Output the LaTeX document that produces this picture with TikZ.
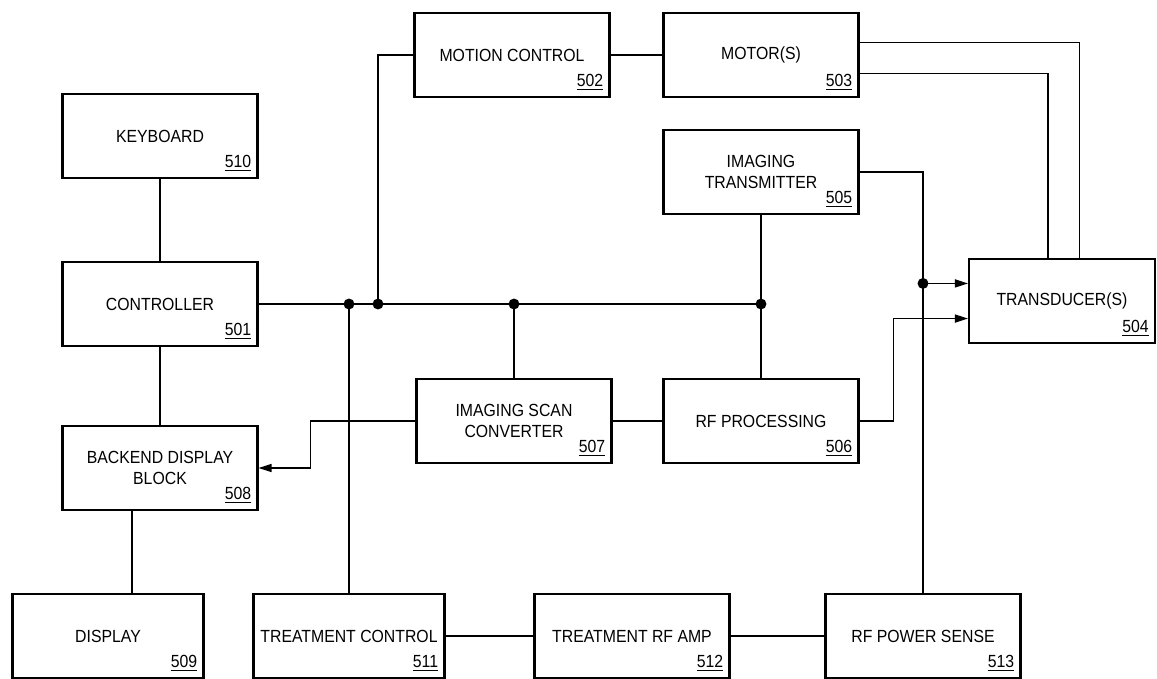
\documentclass[tikz,border=0pt]{standalone}
\usepackage{fontspec}
\setmainfont{Liberation Sans}[FakeStretch=0.9]
\usepackage{tikz}
\usetikzlibrary{positioning, arrows.meta, calc}

\begin{document}
\begin{tikzpicture}[x=0.02cm, y=-0.02cm,
  blk/.style={draw, line width=1.2pt, minimum width=3.9cm, minimum height=1.68cm,
    align=center, inner sep=2pt, font=\fontsize{10}{12}\selectfont},
  num/.style={anchor=south east, inner sep=1pt, font=\fontsize{10}{12}\selectfont},
  dot/.style={circle, fill, inner sep=2.2pt},
  wire/.style={line width=0.9pt},
  arr/.style={wire, -{Triangle[length=2.6mm, width=1.6mm]}}]
\useasboundingbox (0,0) rectangle (1157,679);

% Blocks
\node[blk] (kbd)     at (160,136) {KEYBOARD};
\node[blk] (ctrl)    at (160,304) {CONTROLLER};
\node[blk] (backend) at (160,468) {BACKEND DISPLAY\\BLOCK};
\node[blk, minimum width=3.82cm] (disp) at (108,636) {DISPLAY};
\node[blk] (motion)  at (512,55)  {MOTION CONTROL};
\node[blk] (motor)   at (761,55)  {MOTOR(S)};
\node[blk] (xmit)    at (761,172) {IMAGING\\TRANSMITTER};
\node[blk] (scan)    at (514,421) {IMAGING SCAN\\CONVERTER};
\node[blk] (rfproc)  at (761,421) {RF PROCESSING};
\node[blk, minimum width=3.72cm] (xdcr) at (1062,301) {TRANSDUCER(S)};
\node[blk, minimum width=3.82cm] (trctrl) at (349,636) {TREATMENT CONTROL};
\node[blk] (rfamp)   at (632,636) {TREATMENT RF AMP};
\node[blk] (rfsense) at (923,636) {RF POWER SENSE};

% Reference numbers
\foreach \b/\n in {ctrl/501, motion/502, motor/503, xdcr/504, xmit/505, rfproc/506,
  scan/507, backend/508, disp/509, kbd/510, trctrl/511, rfamp/512, rfsense/513}{
  \node[num] (\b-num) at ([shift={(-3pt,3pt)}]\b.south east) {\underline{\n}};
}

% Left column
\draw[wire] (kbd.south) -- (ctrl.north);
\draw[wire] (ctrl.south) -- (backend.north);
\path (backend.south) ++(-28,0) coordinate (bd);
\draw[wire] (bd) -- (bd |- disp.north);

% Bus from controller
\coordinate (j1) at (trctrl.north |- ctrl.east);
\path (j1) ++(29,0) coordinate (j2);
\coordinate (j3) at (scan.north |- ctrl.east);
\coordinate (j4) at (xmit.south |- ctrl.east);
\draw[wire] (ctrl.east) -- (j4);
\draw[wire] (j1) -- (trctrl.north);
\draw[wire] (j2) |- (motion.west);
\draw[wire] (j3) -- (scan.north);
\draw[wire] (xmit.south) -- (rfproc.north);
\foreach \j in {j1,j2,j3,j4}{
  \node[dot] (\j-dot) at (\j) {};
}

% Horizontal links
\draw[wire] (motion.east) -- (motor.west);
\draw[wire] (scan.east) -- (rfproc.west);
\draw[wire] (trctrl.east) -- (rfamp.west);
\draw[wire] (rfamp.east) -- (rfsense.west);
\draw[arr] (scan.west) -- ++(-105,0) |- (backend.east);

% Transducer side
\coordinate (in1) at ([yshift=10pt]xdcr.west);
\coordinate (in2) at ([yshift=-10pt]xdcr.west);
\coordinate (t1) at (in1 -| rfsense.north);
\draw[wire] (xmit.east) -| (rfsense.north);
\draw[arr] (t1) -- (in1);
\node[dot] (t1-dot) at (t1) {};
\draw[arr] (rfproc.east) -- ++(34,0) |- (in2);
\draw[wire] ([yshift=7pt]motor.east) -| ([xshift=10pt]xdcr.north);
\draw[wire] ([yshift=-10.5pt]motor.east) -| ([xshift=-8pt]xdcr.north);
\end{tikzpicture}
\end{document}
